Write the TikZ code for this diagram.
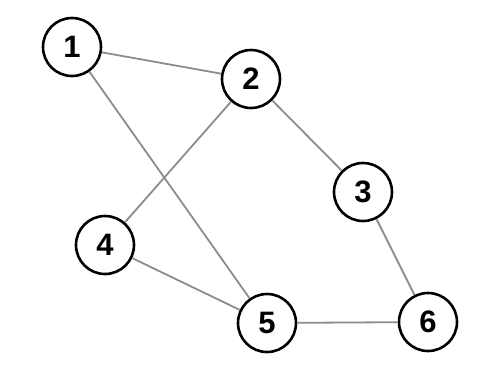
\documentclass[tikz,border=0pt]{standalone}
\usepackage{fontspec}
\setmainfont{Liberation Sans}
\begin{document}
\begin{tikzpicture}[x=1pt,y=-1pt,
  vtx/.style={circle,draw=black,line width=2.6pt,fill=white,minimum size=58pt,inner sep=0pt,font=\fontsize{31}{31}\selectfont\bfseries},
  edge/.style={draw=black!45,line width=1.8pt}]
\useasboundingbox (0,0) rectangle (500,384);
\node[vtx] (n1) at (72,47) {1};
\node[vtx] (n2) at (251,79) {2};
\node[vtx] (n3) at (363,192) {3};
\node[vtx] (n4) at (105,245) {4};
\node[vtx] (n5) at (267,323) {5};
\node[vtx] (n6) at (428,322) {6};
\draw[edge] (n1) -- (n2);
\draw[edge] (n1) -- (n5);
\draw[edge] (n2) -- (n4);
\draw[edge] (n2) -- (n3);
\draw[edge] (n3) -- (n6);
\draw[edge] (n4) -- (n5);
\draw[edge] (n5) -- (n6);
\end{tikzpicture}
\end{document}
